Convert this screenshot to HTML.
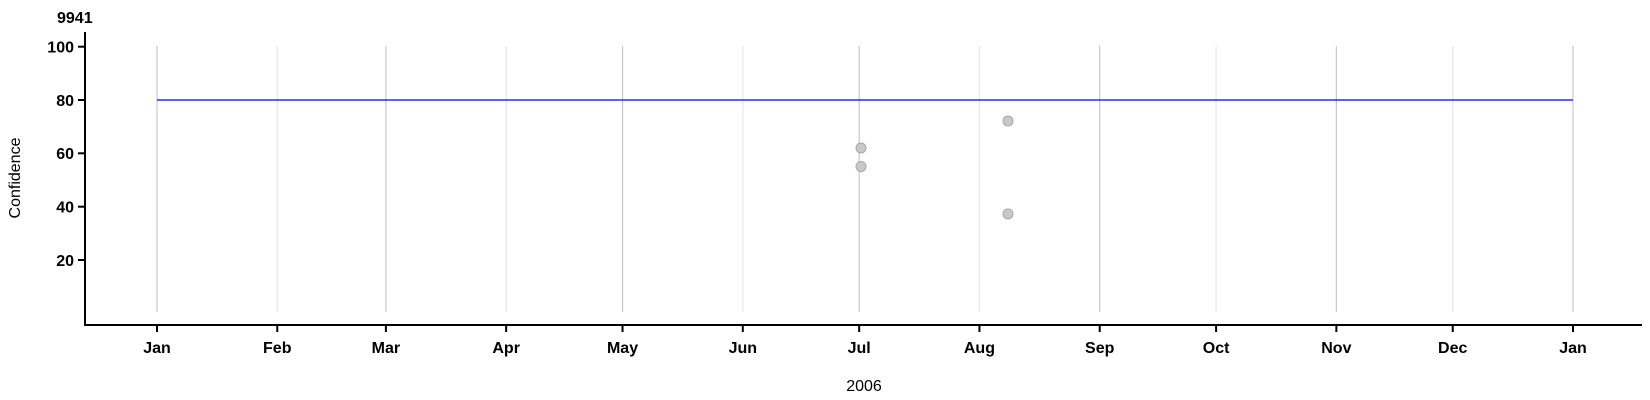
<!DOCTYPE html>
<html><head><style>body{margin:0;background:#fff}svg{display:block;font-family:"Liberation Sans",sans-serif}</style></head>
<body>
<svg width="1650" height="400" xmlns="http://www.w3.org/2000/svg">
<text x="57" y="23" font-size="16" font-weight="bold">9941</text>
<g id="grid"></g>
<line x1="157" x2="1573" y1="100" y2="100" stroke="#0000ff" stroke-width="1.2"/>
<g fill="#c8c8c8" stroke="#a8a8a8" stroke-width="1">
<circle cx="861" cy="148" r="5"/>
<circle cx="861" cy="166.5" r="5"/>
<circle cx="1008" cy="121" r="5"/>
<circle cx="1008" cy="214" r="5"/>
</g>
<line x1="85" x2="85" y1="32" y2="326" stroke="#000" stroke-width="2"/>
<line x1="84" x2="1642" y1="325" y2="325" stroke="#000" stroke-width="2"/>
<g font-size="16" font-weight="bold" text-anchor="end">
<line x1="78" x2="85" y1="46.7" y2="46.7" stroke="#000" stroke-width="2"/><text x="74" y="52.5">100</text>
<line x1="78" x2="85" y1="100" y2="100" stroke="#000" stroke-width="2"/><text x="74" y="106">80</text>
<line x1="78" x2="85" y1="153.3" y2="153.3" stroke="#000" stroke-width="2"/><text x="74" y="159">60</text>
<line x1="78" x2="85" y1="206.7" y2="206.7" stroke="#000" stroke-width="2"/><text x="74" y="212.5">40</text>
<line x1="78" x2="85" y1="260" y2="260" stroke="#000" stroke-width="2"/><text x="74" y="266">20</text>
</g>
<text transform="translate(20,178) rotate(-90)" font-size="16" text-anchor="middle">Confidence</text>
<text x="864" y="391" font-size="16" text-anchor="middle">2006</text>
<g id="xt" font-size="16" font-weight="bold" text-anchor="middle"></g>
<script>
var days=[0,31,59,90,120,151,181,212,243,273,304,334,365];
var names=["Jan","Feb","Mar","Apr","May","Jun","Jul","Aug","Sep","Oct","Nov","Dec","Jan"];
var g=document.getElementById("grid"),xt=document.getElementById("xt"),ns="http://www.w3.org/2000/svg";
for(var i=0;i<13;i++){var x=157+days[i]*1416/365;
var l=document.createElementNS(ns,"line");l.setAttribute("x1",x);l.setAttribute("x2",x);l.setAttribute("y1",46);l.setAttribute("y2",312);l.setAttribute("stroke",i%2?"#e6e6e6":"#c8c8c8");l.setAttribute("stroke-width","1.2");g.appendChild(l);
var t=document.createElementNS(ns,"line");t.setAttribute("x1",x);t.setAttribute("x2",x);t.setAttribute("y1",325);t.setAttribute("y2",332);t.setAttribute("stroke","#000");t.setAttribute("stroke-width","2");xt.appendChild(t);
var tx=document.createElementNS(ns,"text");tx.setAttribute("x",x);tx.setAttribute("y",353);tx.textContent=names[i];xt.appendChild(tx);}
</script>
</svg>
</body></html>
